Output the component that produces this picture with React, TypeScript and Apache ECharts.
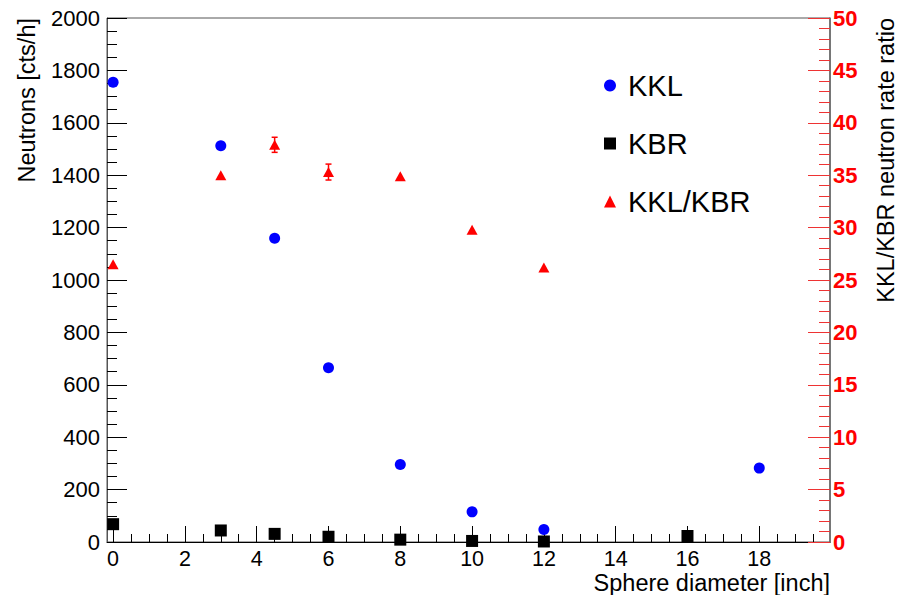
import React, { useEffect, useRef } from "react";
import * as echarts from "echarts";

const kklDiameters = [0, 3, 4.5, 6, 8, 10, 12, 18];
const kklValues = [1755, 1512, 1159, 665, 296, 115, 48, 282];
const kbrDiameters = [0, 3, 4.5, 6, 8, 10, 12, 16];
const kbrValues = [68, 44, 31, 20, 9, 4, 2, 23];
const ratioDiameters = [0, 3, 4.5, 6, 8, 10, 12];
const ratioValues = [26.5, 35.0, 37.9, 35.3, 34.9, 29.8, 26.2];
const ratioErrors = [0, 0, 0.72, 0.76, 0, 0, 0];
const xMajorTicks = [0, 2, 4, 6, 8, 10, 12, 14, 16, 18];
const xMinorTicks = [
  0.5, 1, 1.5, 2.5, 3, 3.5, 4.5, 5, 5.5, 6.5, 7, 7.5, 8.5, 9, 9.5, 10.5, 11,
  11.5, 12.5, 13, 13.5, 14.5, 15, 15.5, 16.5, 17, 17.5, 18.5, 19, 19.5,
];

const FONT = "'Liberation Sans', Arial, Helvetica, sans-serif";

export default function App() {
  const ref = useRef<HTMLDivElement>(null);
  useEffect(() => {
    if (!ref.current) return;
    const chart = echarts.init(ref.current, undefined, { renderer: "svg" });
    const xMin = -0.17;
    const xMax = 19.97;
    const errData = ratioDiameters
      .map((d, i) => [d, ratioValues[i] - ratioErrors[i], ratioValues[i] + ratioErrors[i], ratioErrors[i]])
      .filter((r) => r[3] > 0);
    chart.setOption({
      animation: false,
      backgroundColor: "#fff",
      textStyle: { fontFamily: FONT },
      grid: {
        left: 107,
        right: 77,
        top: 18,
        bottom: 53,
        show: true,
        borderColor: "#555",
        borderWidth: 1,
        backgroundColor: "transparent",
      },
      legend: {
        orient: "vertical",
        left: 599,
        top: 66,
        itemWidth: 12,
        itemHeight: 12,
        itemGap: 29,
        textStyle: {
          fontSize: 29,
          color: "#000",
          fontFamily: FONT,
          padding: [0, 0, 0, 7],
          lineHeight: 29,
        },
        data: [
          { name: "KKL", icon: "circle" },
          { name: "KBR", icon: "rect" },
          { name: "KKL/KBR", icon: "triangle" },
        ],
      },
      xAxis: [
        {
          type: "value",
          min: xMin,
          max: xMax,
          position: "bottom",
          splitLine: { show: false },
          axisLine: { show: true, onZero: false, lineStyle: { color: "#000", width: 1 } },
          axisTick: {
            show: true,
            inside: true,
            length: 16,
            customValues: xMajorTicks,
            lineStyle: { color: "#000", width: 1 },
          },
          axisLabel: {
            customValues: xMajorTicks,
            fontSize: 21.5,
            lineHeight: 21,
            color: "#000",
            margin: 6,
            fontFamily: FONT,
          },
        },
        {
          type: "value",
          min: xMin,
          max: xMax,
          position: "bottom",
          splitLine: { show: false },
          axisLine: { show: false, onZero: false },
          axisTick: {
            show: true,
            inside: true,
            length: 8,
            customValues: xMinorTicks,
            lineStyle: { color: "#000", width: 1 },
          },
          axisLabel: { show: false },
        },
      ],
      yAxis: [
        {
          type: "value",
          min: 0,
          max: 2000,
          interval: 200,
          position: "left",
          splitLine: { show: false },
          axisLine: { show: true, onZero: false, lineStyle: { color: "#555", width: 1 } },
          axisTick: { show: true, inside: true, length: 20, lineStyle: { color: "#000" } },
          minorTick: { show: true, splitNumber: 4, length: 10, lineStyle: { color: "#000" } },
          axisLabel: {
            fontSize: 22,
            color: "#000",
            margin: 7,
            fontFamily: FONT,
            formatter: (v: number) => String(v),
          },
        },
        {
          type: "value",
          min: 0,
          max: 50,
          interval: 5,
          position: "right",
          splitLine: { show: false },
          axisLine: { show: true, onZero: false, lineStyle: { color: "#666", width: 1.5 } },
          axisTick: { show: true, inside: true, length: 22, lineStyle: { color: "#e33" } },
          minorTick: { show: true, splitNumber: 5, length: 11, lineStyle: { color: "#e33" } },
          axisLabel: {
            fontSize: 22,
            color: "#ff0000",
            fontWeight: "bold",
            margin: 3,
            fontFamily: FONT,
          },
        },
      ],
      series: [
        {
          name: "KKL",
          type: "scatter",
          xAxisIndex: 0,
          yAxisIndex: 0,
          symbol: "circle",
          symbolSize: 11,
          itemStyle: { color: "#0000ff", opacity: 1 },
          data: kklDiameters.map((d, i) => [d, kklValues[i]]),
          z: 3,
        },
        {
          name: "KBR",
          type: "scatter",
          xAxisIndex: 0,
          yAxisIndex: 0,
          symbol: "rect",
          symbolSize: 12,
          itemStyle: { color: "#000", opacity: 1 },
          data: kbrDiameters.map((d, i) => [d, kbrValues[i]]),
          z: 3,
        },
        {
          name: "KKL/KBR errors",
          type: "custom",
          xAxisIndex: 0,
          yAxisIndex: 1,
          encode: { x: 0, y: [1, 2] },
          data: errData,
          z: 2,
          renderItem: (params: any, api: any) => {
            const x = api.value(0);
            const lo = api.coord([x, api.value(1)]);
            const hi = api.coord([x, api.value(2)]);
            const st = { stroke: "#ff0000", lineWidth: 1.5 };
            return {
              type: "group",
              children: [
                { type: "line", shape: { x1: lo[0], y1: lo[1], x2: hi[0], y2: hi[1] }, style: st },
                { type: "line", shape: { x1: hi[0] - 3, y1: hi[1], x2: hi[0] + 3, y2: hi[1] }, style: st },
                { type: "line", shape: { x1: lo[0] - 3, y1: lo[1], x2: lo[0] + 3, y2: lo[1] }, style: st },
              ],
            };
          },
        },
        {
          name: "KKL/KBR",
          type: "scatter",
          xAxisIndex: 0,
          yAxisIndex: 1,
          symbol: "triangle",
          symbolSize: [11, 10],
          itemStyle: { color: "#ff0000", opacity: 1 },
          data: ratioDiameters.map((d, i) => [d, ratioValues[i]]),
          z: 3,
        },
      ],
      graphic: [
        {
          type: "text",
          x: 27,
          y: 18,
          rotation: Math.PI / 2,
          style: {
            text: "Neutrons [cts/h]",
            fontSize: 23.5,
            fontFamily: FONT,
            fill: "#000",
            align: "right",
            verticalAlign: "middle",
          },
        },
        {
          type: "text",
          x: 886,
          y: 18,
          rotation: Math.PI / 2,
          style: {
            text: "KKL/KBR neutron rate ratio",
            fontSize: 23.5,
            fontFamily: FONT,
            fill: "#000",
            align: "right",
            verticalAlign: "middle",
          },
        },
        {
          type: "text",
          x: 830,
          y: 583,
          style: {
            text: "Sphere diameter [inch]",
            fontSize: 23.5,
            lineHeight: 22,
            fontFamily: FONT,
            fill: "#000",
            align: "right",
            verticalAlign: "middle",
          },
        },
      ],
    });
    return () => chart.dispose();
  }, []);
  return (
    <div
      ref={ref}
      style={{ position: "fixed", left: 0, top: 0, width: 907, height: 595, background: "#fff" }}
    />
  );
}
